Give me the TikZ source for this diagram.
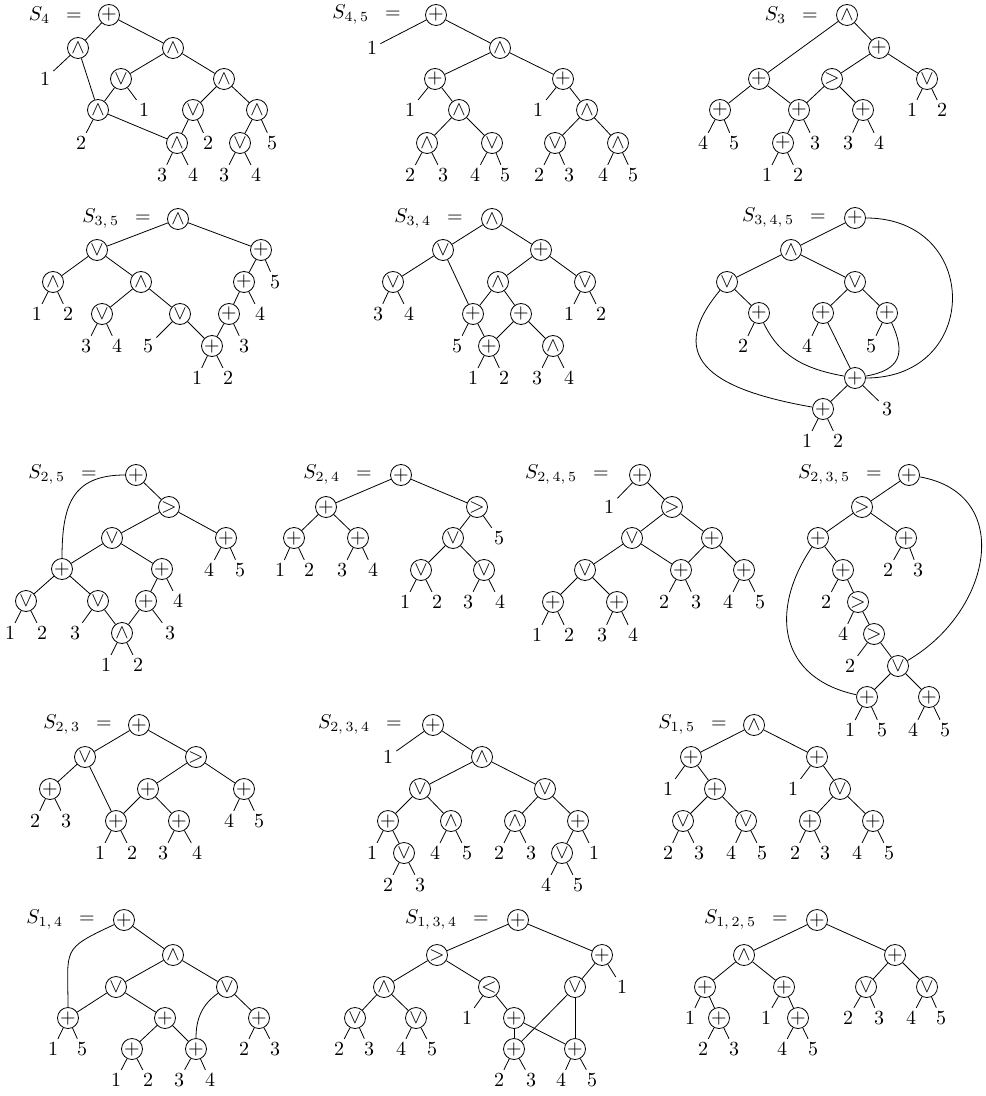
\documentclass[tikz,border=0pt]{standalone}
\usepackage{amsmath}
\usepackage{xcolor}
\usepackage{tikz}
\usetikzlibrary{positioning}

\tikzset{
  opnode/.style={circle, draw, inner sep=0pt, minimum size=10.5pt},
  lfnode/.style={inner sep=1.5pt},
  ttlnode/.style={inner sep=0pt}
}

\begin{document}
\begin{tikzpicture}[x=0.5pt, y=-0.5pt]
  \useasboundingbox (0,0) rectangle (985,1096);

  % S_4
  \foreach \n/\x/\y/\s in {a0/109/15/+, a1/78/48/\wedge, a2/173/48/\wedge, a4/121/79/\vee, a5/224/79/\wedge, a6/98/110/\wedge, a8/193/110/\vee, a9/257/110/\wedge, a11/177/143/\wedge, a13/240/143/\vee}
    \node[opnode] (\n) at (\x,\y) {$\s$};
  \foreach \n/\x/\y/\t in {a3/45/79/1, a7/144/110/1, a10/81/143/2, a12/208/143/2, a14/272/143/5, a15/162/175/3, a16/193/175/4, a17/224/175/3, a18/256/175/4}
    \node[lfnode] (\n) at (\x,\y) {\t};
  \node[ttlnode, left=8pt of a0] (aT) {$S_{4}$\hspace{8pt}$=$};
  \foreach \a/\b in {a0/a1, a0/a2, a1/a3, a1/a6, a2/a4, a2/a5, a4/a6, a4/a7, a5/a8, a5/a9, a6/a10, a6/a11, a8/a11, a8/a12, a9/a13, a9/a14, a11/a15, a11/a16, a13/a17, a13/a18}
    \draw (\a) -- (\b);

  % S_{4,5}
  \foreach \n/\x/\y/\s in {b0/436/15/+, b2/500/48/\wedge, b3/435/79/+, b4/563/79/+, b6/459/110/\wedge, b8/587/110/\wedge, b9/427/143/\wedge, b10/492/143/\vee, b11/555/143/\vee, b12/618/143/\wedge}
    \node[opnode] (\n) at (\x,\y) {$\s$};
  \foreach \n/\x/\y/\t in {b1/372/48/1, b5/410/110/1, b7/538/110/1, b13/410/175/2, b14/443/175/3, b15/475/175/4, b16/505/175/5, b17/539/175/2, b18/569/175/3, b19/603/175/4, b20/633/175/5}
    \node[lfnode] (\n) at (\x,\y) {\t};
  \node[ttlnode, left=12pt of b0] (bT) {$S_{4,\,5}$\hspace{8pt}$=$};
  \foreach \a/\b in {b0/b1, b0/b2, b2/b3, b2/b4, b3/b5, b3/b6, b4/b7, b4/b8, b6/b9, b6/b10, b8/b11, b8/b12, b9/b13, b9/b14, b10/b15, b10/b16, b11/b17, b11/b18, b12/b19, b12/b20}
    \draw (\a) -- (\b);

  % S_3
  \foreach \n/\x/\y/\s in {c0/847/15/\wedge, c1/879/48/+, c2/759/79/+, c3/832/79/>, c4/927/79/\vee, c5/720/110/+, c6/799/110/+, c7/863/110/+, c12/783/143/+}
    \node[opnode] (\n) at (\x,\y) {$\s$};
  \foreach \n/\x/\y/\t in {c8/912/110/1, c9/942/110/2, c10/703/143/4, c11/734/143/5, c13/815/143/3, c14/848/143/3, c15/879/143/4, c16/767/175/1, c17/798/175/2}
    \node[lfnode] (\n) at (\x,\y) {\t};
  \node[ttlnode, left=9pt of c0] (cT) {$S_{3}$\hspace{8pt}$=$};
  \foreach \a/\b in {c0/c1, c0/c2, c1/c3, c1/c4, c2/c5, c2/c6, c3/c6, c3/c7, c4/c8, c4/c9, c5/c10, c5/c11, c6/c12, c6/c13, c7/c14, c7/c15, c12/c16, c12/c17}
    \draw (\a) -- (\b);

  % S_{3,5}
  \foreach \n/\x/\y/\s in {d0/178/219/\wedge, d1/97/250/\vee, d2/261/250/+, d3/53/282/\wedge, d4/141/282/\wedge, d5/244/282/+, d9/102/314/\vee, d10/180/314/\vee, d11/229/314/+, d16/212/346/+}
    \node[opnode] (\n) at (\x,\y) {$\s$};
  \foreach \n/\x/\y/\t in {d6/275/282/5, d7/37/314/1, d8/68/314/2, d12/260/314/4, d13/86/346/3, d14/117/346/4, d15/148/346/5, d17/244/346/3, d18/197/378/1, d19/228/378/2}
    \node[lfnode] (\n) at (\x,\y) {\t};
  \node[ttlnode, left=8pt of d0] (dT) {$S_{3,\,5}$\hspace{8pt}$=$};
  \foreach \a/\b in {d0/d1, d0/d2, d1/d3, d1/d4, d3/d7, d3/d8, d4/d9, d4/d10, d9/d13, d9/d14, d10/d15, d10/d16, d2/d5, d2/d6, d5/d11, d5/d12, d11/d16, d11/d17, d16/d18, d16/d19}
    \draw (\a) -- (\b);

  % S_{3,4}
  \foreach \n/\x/\y/\s in {e0/492/219/\wedge, e1/443/250/\vee, e2/541/250/+, e3/393/282/\vee, e4/498/282/\wedge, e5/585/282/\vee, e8/473/314/+, e9/521/314/+, e13/489/346/+, e14/553/346/\wedge}
    \node[opnode] (\n) at (\x,\y) {$\s$};
  \foreach \n/\x/\y/\t in {e6/378/314/3, e7/409/314/4, e10/569/314/1, e11/601/314/2, e12/457/346/5, e15/473/378/1, e16/504/378/2, e17/537/378/3, e18/569/378/4}
    \node[lfnode] (\n) at (\x,\y) {\t};
  \node[ttlnode, left=9pt of e0] (eT) {$S_{3,\,4}$\hspace{8pt}$=$};
  \foreach \a/\b in {e0/e1, e0/e2, e1/e3, e1/e8, e3/e6, e3/e7, e2/e4, e2/e5, e4/e8, e4/e9, e5/e10, e5/e11, e8/e12, e8/e13, e9/e13, e9/e14, e13/e15, e13/e16, e14/e17, e14/e18}
    \draw (\a) -- (\b);

  % S_{3,4,5}
  \foreach \n/\x/\y/\s in {f0/855/218/+, f1/791/250/\wedge, f2/727/282/\vee, f3/855/282/\vee, f4/759/313/+, f5/823/313/+, f6/887/313/+, f10/855/378/+, f11/823/409/+}
    \node[opnode] (\n) at (\x,\y) {$\s$};
  \foreach \n/\x/\y/\t in {f7/743/346/2, f8/807/346/4, f9/871/346/5, f12/887/409/3, f13/807/441/1, f14/838/441/2}
    \node[lfnode] (\n) at (\x,\y) {\t};
  \node[ttlnode, left=9pt of f0] (fT) {$S_{3,\,4,\,5}$\hspace{8pt}$=$};
  \foreach \a/\b in {f0/f1, f1/f2, f1/f3, f2/f4, f3/f5, f3/f6, f4/f7, f5/f8, f5/f10, f6/f9, f10/f11, f10/f12, f11/f13, f11/f14}
    \draw (\a) -- (\b);
  \draw (f0) to[out=0, in=0, looseness=1.85] (f10);
  \draw (f6) to[out=-65, in=10, looseness=1.5] (f10);
  \draw (f2) to[out=230, in=170, looseness=1.6] (f11);
  \draw (f4) to[out=-65, in=170] (f10);

  % S_{2,5}
  \foreach \n/\x/\y/\s in {g0/136/475/+, g1/169/507/>, g2/112/538/\vee, g3/226/538/+, g4/62/569/+, g5/162/569/+, g8/26/601/\vee, g9/98/601/\vee, g10/146/601/+, g15/122/633/\wedge}
    \node[opnode] (\n) at (\x,\y) {$\s$};
  \foreach \n/\x/\y/\t in {g6/209/570/4, g7/240/570/5, g11/178/601/4, g12/10/633/1, g13/42/633/2, g14/75/633/3, g16/170/633/3, g17/106/665/1, g18/138/665/2}
    \node[lfnode] (\n) at (\x,\y) {\t};
  \node[ttlnode, left=14pt of g0] (gT) {$S_{2,\,5}$\hspace{8pt}$=$};
  \foreach \a/\b in {g0/g1, g1/g2, g1/g3, g2/g4, g2/g5, g3/g6, g3/g7, g4/g8, g4/g9, g5/g10, g5/g11, g8/g12, g8/g13, g9/g14, g9/g15, g10/g15, g10/g16, g15/g17, g15/g18}
    \draw (\a) -- (\b);
  \draw (g0) to[out=180, in=90, looseness=1.3] (g4);

  % S_{2,4}
  \foreach \n/\x/\y/\s in {h0/401/475/+, h1/326/507/+, h2/477/507/>, h3/294/538/+, h4/358/538/+, h5/453/538/\vee, h11/421/570/\vee, h12/484/570/\vee}
    \node[opnode] (\n) at (\x,\y) {$\s$};
  \foreach \n/\x/\y/\t in {h6/499/538/5, h7/280/570/1, h8/309/570/2, h9/342/570/3, h10/373/570/4, h13/405/602/1, h14/437/602/2, h15/468/602/3, h16/500/602/4}
    \node[lfnode] (\n) at (\x,\y) {\t};
  \node[ttlnode, left=9pt of h0] (hT) {$S_{2,\,4}$\hspace{8pt}$=$};
  \foreach \a/\b in {h0/h1, h0/h2, h1/h3, h1/h4, h3/h7, h3/h8, h4/h9, h4/h10, h2/h5, h2/h6, h5/h11, h5/h12, h11/h13, h11/h14, h12/h15, h12/h16}
    \draw (\a) -- (\b);

  % S_{2,4,5}
  \foreach \n/\x/\y/\s in {i0/640/475/+, i2/672/507/>, i3/632/538/\vee, i4/712/538/+, i5/585/570/\vee, i6/681/570/+, i7/744/570/+, i8/553/602/+, i9/617/602/+}
    \node[opnode] (\n) at (\x,\y) {$\s$};
  \foreach \n/\x/\y/\t in {i1/609/507/1, i10/664/602/2, i11/696/602/3, i12/728/602/4, i13/760/602/5, i14/537/635/1, i15/569/635/2, i16/602/635/3, i17/633/635/4}
    \node[lfnode] (\n) at (\x,\y) {\t};
  \node[ttlnode, left=10pt of i0] (iT) {$S_{2,\,4,\,5}$\hspace{8pt}$=$};
  \foreach \a/\b in {i0/i1, i0/i2, i2/i3, i2/i4, i3/i5, i3/i6, i4/i6, i4/i7, i5/i8, i5/i9, i6/i10, i6/i11, i7/i12, i7/i13, i8/i14, i8/i15, i9/i16, i9/i17}
    \draw (\a) -- (\b);

  % S_{2,3,5}
  \foreach \n/\x/\y/\s in {j0/909/475/+, j1/862/507/>, j2/818/538/+, j3/906/538/+, j4/843/570/+, j8/858/602/>, j10/874/634/>, j12/898/666/\vee, j13/867/697/+, j14/929/697/+}
    \node[opnode] (\n) at (\x,\y) {$\s$};
  \foreach \n/\x/\y/\t in {j5/888/570/2, j6/918/570/3, j7/826/602/2, j9/843/634/4, j11/850/666/2, j15/850/730/1, j16/882/730/5, j17/913/730/4, j18/945/730/5}
    \node[lfnode] (\n) at (\x,\y) {\t};
  \node[ttlnode, left=8pt of j0] (jT) {$S_{2,\,3,\,5}$\hspace{8pt}$=$};
  \foreach \a/\b in {j0/j1, j1/j2, j1/j3, j2/j4, j3/j5, j3/j6, j4/j7, j4/j8, j8/j9, j8/j10, j10/j11, j10/j12, j12/j13, j12/j14, j13/j15, j13/j16, j14/j17, j14/j18}
    \draw (\a) -- (\b);
  \draw (j0) to[out=-10, in=30, looseness=1.35] (j12);
  \draw (j2) to[out=236, in=168, looseness=1.3] (j13);

  % S_{2,3}
  \foreach \n/\x/\y/\s in {k0/139/725/+, k1/85/757/\vee, k2/196/757/>, k3/50/789/+, k4/148/789/+, k5/244/789/+, k8/116/821/+, k9/179/821/+}
    \node[opnode] (\n) at (\x,\y) {$\s$};
  \foreach \n/\x/\y/\t in {k6/35/821/2, k7/66/821/3, k10/229/821/4, k11/259/821/5, k12/100/853/1, k13/132/853/2, k14/163/853/3, k15/197/853/4}
    \node[lfnode] (\n) at (\x,\y) {\t};
  \node[ttlnode, left=8pt of k0] (kT) {$S_{2,\,3}$\hspace{8pt}$=$};
  \foreach \a/\b in {k0/k1, k0/k2, k1/k3, k1/k8, k3/k6, k3/k7, k2/k4, k2/k5, k4/k8, k4/k9, k5/k10, k5/k11, k8/k12, k8/k13, k9/k14, k9/k15}
    \draw (\a) -- (\b);

  % S_{2,3,4}
  \foreach \n/\x/\y/\s in {l0/433/725/+, l2/482/757/\wedge, l3/420/789/\vee, l4/545/789/\vee, l5/388/821/+, l6/451/821/\wedge, l7/515/821/\wedge, l8/578/821/+, l10/404/853/\vee, l15/562/853/\vee}
    \node[opnode] (\n) at (\x,\y) {$\s$};
  \foreach \n/\x/\y/\t in {l1/388/757/1, l9/372/853/1, l11/435/853/4, l12/467/853/5, l13/499/853/2, l14/531/853/3, l16/594/853/1, l17/388/885/2, l18/420/885/3, l19/546/885/4, l20/578/885/5}
    \node[lfnode] (\n) at (\x,\y) {\t};
  \node[ttlnode, left=10pt of l0] (lT) {$S_{2,\,3,\,4}$\hspace{8pt}$=$};
  \foreach \a/\b in {l0/l1, l0/l2, l2/l3, l2/l4, l3/l5, l3/l6, l4/l7, l4/l8, l5/l9, l5/l10, l6/l11, l6/l12, l7/l13, l7/l14, l8/l15, l8/l16, l10/l17, l10/l18, l15/l19, l15/l20}
    \draw (\a) -- (\b);

  % S_{1,5}
  \foreach \n/\x/\y/\s in {m0/754/725/\wedge, m1/691/757/+, m2/817/757/+, m4/715/789/+, m6/840/789/\vee, m7/683/821/\vee, m8/746/821/\vee, m9/810/821/+, m10/873/821/+}
    \node[opnode] (\n) at (\x,\y) {$\s$};
  \foreach \n/\x/\y/\t in {m3/668/789/1, m5/793/789/1, m11/668/853/2, m12/699/853/3, m13/731/853/4, m14/762/853/5, m15/795/853/2, m16/825/853/3, m17/857/853/4, m18/889/853/5}
    \node[lfnode] (\n) at (\x,\y) {\t};
  \node[ttlnode, left=8pt of m0] (mT) {$S_{1,\,5}$\hspace{8pt}$=$};
  \foreach \a/\b in {m0/m1, m0/m2, m1/m3, m1/m4, m4/m7, m4/m8, m2/m5, m2/m6, m6/m9, m6/m10, m7/m11, m7/m12, m8/m13, m8/m14, m9/m15, m9/m16, m10/m17, m10/m18}
    \draw (\a) -- (\b);

  % S_{1,4}
  \foreach \n/\x/\y/\s in {n0/124/920/+, n1/173/955/\wedge, n2/116/987/\vee, n3/227/987/\vee, n4/68/1018/+, n5/165/1018/+, n6/259/1018/+, n9/132/1049/+, n10/196/1049/+}
    \node[opnode] (\n) at (\x,\y) {$\s$};
  \foreach \n/\x/\y/\t in {n7/53/1049/1, n8/82/1049/5, n11/244/1049/2, n12/275/1049/3, n13/116/1080/1, n14/148/1080/2, n15/179/1080/3, n16/210/1080/4}
    \node[lfnode] (\n) at (\x,\y) {\t};
  \node[ttlnode, left=9pt of n0] (nT) {$S_{1,\,4}$\hspace{8pt}$=$};
  \foreach \a/\b in {n0/n1, n1/n2, n1/n3, n2/n4, n2/n5, n4/n7, n4/n8, n5/n9, n5/n10, n9/n13, n9/n14, n10/n15, n10/n16, n3/n6, n6/n11, n6/n12}
    \draw (\a) -- (\b);
  \draw (n0) to[out=205, in=90, looseness=1.6] (n4);
  \draw (n3) to[out=215, in=90] (n10);

  % S_{1,3,4}
  \foreach \n/\x/\y/\s in {o0/518/920/+, o1/437/955/>, o2/602/955/+, o3/384/987/\wedge, o4/489/987/<, o5/575/987/\vee, o7/355/1018/\vee, o8/416/1018/\vee, o10/514/1018/+, o11/514/1049/+, o12/575/1049/+}
    \node[opnode] (\n) at (\x,\y) {$\s$};
  \foreach \n/\x/\y/\t in {o6/622/987/1, o9/467/1018/1, o13/339/1049/2, o14/369/1049/3, o15/401/1049/4, o16/432/1049/5, o17/499/1080/2, o18/531/1080/3, o19/561/1080/4, o20/592/1080/5}
    \node[lfnode] (\n) at (\x,\y) {\t};
  \node[ttlnode, left=9pt of o0] (oT) {$S_{1,\,3,\,4}$\hspace{8pt}$=$};
  \foreach \a/\b in {o0/o1, o0/o2, o1/o3, o1/o4, o3/o7, o3/o8, o7/o13, o7/o14, o8/o15, o8/o16, o4/o9, o4/o10, o2/o5, o2/o6, o10/o11, o10/o12, o5/o11, o5/o12, o11/o17, o11/o18, o12/o19, o12/o20}
    \draw (\a) -- (\b);

  % S_{1,2,5}
  \foreach \n/\x/\y/\s in {p0/817/920/+, p1/744/955/\wedge, p2/895/955/+, p3/705/987/+, p4/784/987/+, p5/866/987/\vee, p6/927/987/\vee, p8/719/1018/+, p10/798/1018/+}
    \node[opnode] (\n) at (\x,\y) {$\s$};
  \foreach \n/\x/\y/\t in {p7/690/1018/1, p9/766/1018/1, p11/848/1018/2, p12/879/1018/3, p13/911/1018/4, p14/941/1018/5, p15/703/1049/2, p16/734/1049/3, p17/782/1049/4, p18/813/1049/5}
    \node[lfnode] (\n) at (\x,\y) {\t};
  \node[ttlnode, left=9pt of p0] (pT) {$S_{1,\,2,\,5}$\hspace{8pt}$=$};
  \foreach \a/\b in {p0/p1, p0/p2, p1/p3, p1/p4, p3/p7, p3/p8, p8/p15, p8/p16, p4/p9, p4/p10, p10/p17, p10/p18, p2/p5, p2/p6, p5/p11, p5/p12, p6/p13, p6/p14}
    \draw (\a) -- (\b);
\end{tikzpicture}
\end{document}
